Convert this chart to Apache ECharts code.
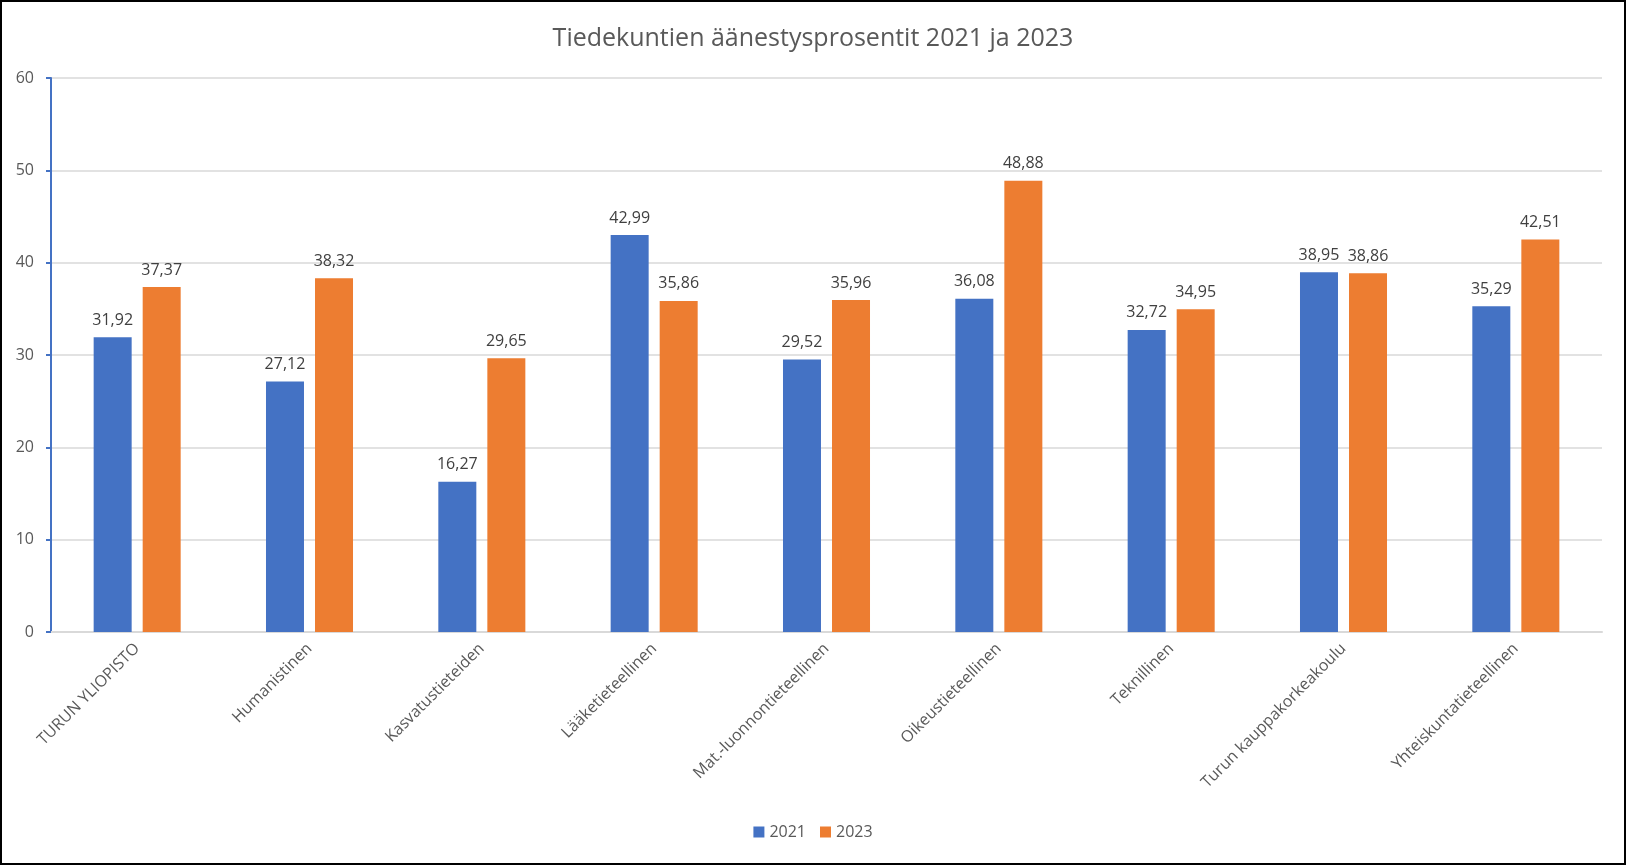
<!DOCTYPE html>
<html>
<head>
<meta charset="utf-8">
<script src="https://cdn.jsdelivr.net/npm/echarts@6/dist/echarts.min.js"></script>
<style>
  html, body { margin: 0; padding: 0; background: #fff; }
  #chart { width: 1626px; height: 865px; box-sizing: border-box; border: 2px solid #000; }
</style>
</head>
<body>
<div id="chart"></div>
<script>
const titleText = 'Tiedekuntien äänestysprosentit 2021 ja 2023';
const categories = ['TURUN YLIOPISTO', 'Humanistinen', 'Kasvatustieteiden', 'Lääketieteellinen',
  'Mat.-luonnontieteellinen', 'Oikeustieteellinen', 'Teknillinen', 'Turun kauppakorkeakoulu', 'Yhteiskuntatieteellinen'];
const seriesNames = ['2021', '2023'];
const values2021 = [31.92, 27.12, 16.27, 42.99, 29.52, 36.08, 32.72, 38.95, 35.29];
const values2023 = [37.37, 38.32, 29.65, 35.86, 35.96, 48.88, 34.95, 38.86, 42.51];
const yMin = 0, yMax = 60, yStep = 10;

const FONT = '"Open Sans", "Noto Sans", sans-serif';
const chart = echarts.init(document.getElementById('chart'), null, { renderer: 'canvas' });
const fmt = p => p.value.toFixed(2).replace('.', ',');
const labelStyle = { show: true, position: 'top', distance: 9, color: '#404040', fontSize: 16, fontFamily: FONT, formatter: fmt };

chart.setOption({
  animation: false,
  title: {
    text: titleText, left: 'center', top: 19,
    textStyle: { fontFamily: FONT, fontSize: 25, fontWeight: 'normal', color: '#595959' }
  },
  legend: {
    data: seriesNames, bottom: 18, left: 'center',
    itemWidth: 11, itemHeight: 11, itemGap: 14,
    icon: 'rect',
    textStyle: { fontFamily: FONT, fontSize: 16, color: '#595959' }
  },
  grid: { left: 49, right: 22, top: 76, bottom: 231, containLabel: false },
  xAxis: {
    type: 'category', data: categories,
    axisLine: { lineStyle: { color: '#D9D9D9', width: 2 } },
    axisTick: { show: false },
    axisLabel: { rotate: 45, interval: 0, margin: 14, color: '#595959', fontSize: 16, fontFamily: FONT }
  },
  yAxis: {
    type: 'value', min: yMin, max: yMax, interval: yStep,
    axisLine: { show: true, lineStyle: { color: '#4472C4', width: 2 } },
    axisTick: { show: true, length: 5, lineStyle: { color: '#4472C4', width: 2 } },
    splitLine: { lineStyle: { color: '#D9D9D9', width: 1.5 } },
    axisLabel: { margin: 17, color: '#595959', fontSize: 16, fontFamily: FONT }
  },
  series: [
    { name: seriesNames[0], type: 'bar', data: values2021, barWidth: 38, barGap: '29%',
      itemStyle: { color: '#4472C4' }, label: labelStyle },
    { name: seriesNames[1], type: 'bar', data: values2023, barWidth: 38, barGap: '29%',
      itemStyle: { color: '#ED7D31' }, label: labelStyle }
  ]
});
</script>
</body>
</html>
